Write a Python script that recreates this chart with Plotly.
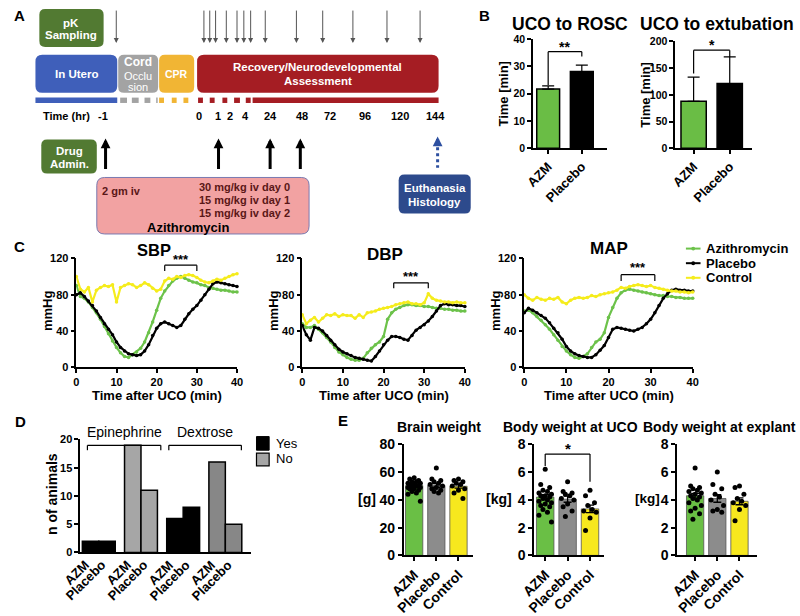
import plotly.graph_objects as go

FONT = "Liberation Sans"
W, H = 800, 616

# ---------------- Panel B data ----------------
b_groups = ["AZM", "Placebo"]
rosc_mean = [21.7, 28.1]
rosc_err = [1.2, 2.4]
extub_mean = [88, 121]
extub_err = [45, 50]

# ---------------- Panel C data (mmHg vs minutes after UCO) ----------------
time_min = list(range(41))
sbp_azm = [90, 78, 76, 72, 66, 60, 53, 45, 37, 29, 22, 16, 12, 11, 14, 17, 21, 28, 38, 50, 63,
           76, 84, 90, 95, 98, 100, 98, 96, 94, 93, 91, 90, 88, 87, 86, 85, 85, 84, 83, 83]
sbp_pla = [80, 82, 78, 73, 68, 62, 55, 48, 42, 36, 28, 22, 18, 15, 14, 13, 14, 18, 25, 35, 43,
           48, 50, 48, 46, 44, 46, 53, 59, 64, 68, 74, 80, 86, 92, 94, 93, 92, 91, 90, 89]
sbp_con = [100, 86, 83, 88, 72, 85, 88, 90, 89, 91, 72, 88, 90, 92, 91, 88, 90, 93, 91, 87, 84,
           86, 95, 98, 97, 100, 99, 101, 102, 101, 99, 96, 94, 93, 95, 97, 96, 98, 100, 102, 103]
dbp_azm = [48, 44, 44, 46, 42, 38, 33, 28, 22, 17, 14, 11, 9, 8, 8, 10, 16, 21, 25, 28, 34,
           53, 60, 64, 66, 68, 69, 69, 68, 68, 67, 67, 66, 65, 65, 64, 64, 63, 63, 62, 62]
dbp_pla = [46, 36, 30, 44, 43, 40, 35, 30, 25, 20, 17, 15, 13, 11, 10, 9, 8, 7, 12, 18, 25,
           30, 34, 34, 33, 31, 30, 35, 41, 44, 47, 51, 56, 62, 68, 70, 69, 69, 68, 68, 67]
dbp_con = [58, 48, 52, 55, 50, 54, 58, 57, 59, 56, 58, 57, 57, 54, 58, 55, 60, 61, 62, 64, 65,
           66, 67, 69, 70, 71, 72, 70, 70, 69, 71, 81, 76, 74, 73, 72, 72, 71, 72, 71, 71]
map_azm = [62, 63, 60, 56, 52, 47, 42, 36, 30, 23, 18, 14, 11, 10, 12, 15, 22, 28, 31, 38, 55,
           66, 76, 82, 85, 86, 85, 84, 83, 82, 81, 80, 79, 79, 78, 78, 77, 77, 76, 76, 76]
map_pla = [60, 65, 63, 60, 57, 54, 49, 43, 38, 31, 23, 18, 15, 13, 12, 11, 11, 14, 19, 24, 33,
           42, 44, 43, 42, 41, 40, 42, 44, 48, 53, 60, 68, 76, 81, 85, 86, 85, 85, 84, 84]
map_con = [80, 76, 74, 77, 75, 74, 76, 75, 77, 72, 70, 74, 76, 77, 76, 77, 79, 78, 80, 81, 82,
           83, 85, 88, 87, 89, 90, 91, 90, 89, 90, 88, 87, 86, 85, 84, 84, 83, 83, 82, 83]
series_names = ["Azithromycin", "Placebo", "Control"]
series_colors = ["#6cc24a", "#000000", "#f5ec1c"]

# ---------------- Panel D data ----------------
d_groups = ["Epinephrine Yes", "Epinephrine No", "Dextrose Yes", "Dextrose No"]
d_azm = [2, 19, 6, 16]
d_pla = [2, 11, 8, 5]
d_colors = ["#000000", "#a6a6a6", "#000000", "#878787"]

# ---------------- Panel E data ----------------
e_groups = ["AZM", "Placebo", "Control"]
e_colors = ["#6abf45", "#8c8c8c", "#f7e81e"]
brain_mean = [50.3, 50.4, 49.8]
brain_sem = [0.9, 1.3, 1.4]
brain_azm = [56, 55, 54, 53, 53, 52, 52, 51, 51, 50, 50, 50, 49, 49, 48, 48, 47, 46, 45, 44, 39]
brain_pla = [63, 55, 54, 53, 52, 51, 50, 49, 48, 47, 46, 45]
brain_con = [55, 54, 53, 52, 51, 50, 48, 47, 45, 41]
uco_mean = [4.2, 4.05, 3.35]
uco_sem = [0.18, 0.22, 0.27]
uco_azm = [6.2, 5.1, 4.9, 4.7, 4.6, 4.5, 4.4, 4.3, 4.3, 4.2, 4.1, 4.0, 3.9, 3.8, 3.7, 3.6, 3.5, 3.3, 3.1, 2.9, 2.4]
uco_pla = [5.3, 4.6, 4.5, 4.4, 4.3, 4.1, 4.0, 3.7, 3.5, 3.2, 2.8]
uco_con = [4.7, 4.3, 3.8, 3.6, 3.3, 3.2, 3.1, 2.7, 1.8]
exp_mean = [4.3, 4.1, 3.9]
exp_sem = [0.17, 0.27, 0.25]
exp_azm = [6.3, 5.0, 4.9, 4.8, 4.7, 4.6, 4.5, 4.4, 4.3, 4.2, 4.1, 4.0, 3.8, 3.6, 3.4, 3.2, 3.0, 2.6]
exp_pla = [6.0, 5.1, 4.8, 4.4, 4.2, 4.0, 3.6, 3.3, 3.2, 3.1]
exp_con = [5.0, 4.9, 4.4, 4.1, 3.9, 3.8, 3.6, 3.3, 2.5]

# ---------------- Panel A timeline labels ----------------
time_labels = ["-1", "0", "1", "2", "4", "24", "48", "72", "96", "120", "144"]
time_label_x = [90, 189, 208, 221, 237, 262, 295, 323, 359, 395, 432]
pk_arrow_x = [104, 194, 200, 206, 217, 228, 235, 242, 257, 289, 316, 347, 382, 416]
drug_arrow_x = [93, 209, 262, 293]
dose_lines = ["30 mg/kg iv day 0", "15 mg/kg iv day 1", "15 mg/kg iv day 2"]

# ======================================================================
shapes = []
annotations = []


def fx(x):
    return x / W


def fy(y):
    return 1 - y / H


def text(x, y, s, size=12, color="black", bold=True, xanchor="center", yanchor="middle", angle=0):
    annotations.append(dict(x=fx(x), y=fy(y), xref="paper", yref="paper", text=s, showarrow=False,
                            font=dict(family=FONT, size=size, color=color,
                                      weight="bold" if bold else "normal"),
                            xanchor=xanchor, yanchor=yanchor, textangle=angle, borderpad=0))


def rect(x0, y0, x1, y1, fill, line=None, lw=0):
    shapes.append(dict(type="rect", xref="paper", yref="paper", x0=fx(x0), x1=fx(x1),
                       y0=fy(y1), y1=fy(y0), fillcolor=fill,
                       line=dict(color=line if line else fill, width=lw)))


def rrect(x0, y0, x1, y1, fill, r=6, line=None, lw=0):
    def P(x, y):
        return f"{x / W:.5f},{1 - y / H:.5f}"
    path = (f"M{P(x0 + r, y0)} L{P(x1 - r, y0)} Q{P(x1, y0)} {P(x1, y0 + r)} "
            f"L{P(x1, y1 - r)} Q{P(x1, y1)} {P(x1 - r, y1)} L{P(x0 + r, y1)} "
            f"Q{P(x0, y1)} {P(x0, y1 - r)} L{P(x0, y0 + r)} Q{P(x0, y0)} {P(x0 + r, y0)} Z")
    shapes.append(dict(type="path", xref="paper", yref="paper", path=path, fillcolor=fill,
                       line=dict(color=line if line else fill, width=lw)))


def line(x0, y0, x1, y1, color="black", width=1.5, dash="solid"):
    shapes.append(dict(type="line", xref="paper", yref="paper", x0=fx(x0), y0=fy(y0),
                       x1=fx(x1), y1=fy(y1), line=dict(color=color, width=width, dash=dash)))


def arrow(x, y_tip, y_tail, width=1, color="#444", head=2, size=1.0):
    annotations.append(dict(x=fx(x), y=fy(y_tip), xref="paper", yref="paper", text="",
                            showarrow=True, ax=0, ay=y_tail - y_tip, arrowhead=head,
                            arrowwidth=width, arrowcolor=color, arrowsize=size, standoff=0))


# ---------------- axes geometry (pixel domains) ----------------
AX = {
    1: dict(x=(532, 608), y=(32, 144), xr=(-0.45, 1.75), yr=(0, 40)),
    2: dict(x=(678, 757), y=(34.3, 144), xr=(-0.51, 1.62), yr=(0, 200)),
    3: dict(x=(63, 228), y=(257, 369), xr=(0, 40), yr=(0, 120)),
    4: dict(x=(295, 462), y=(257, 369), xr=(0, 40), yr=(0, 120)),
    5: dict(x=(523, 696), y=(257, 369), xr=(0, 40), yr=(0, 120)),
    6: dict(x=(67, 242), y=(443, 559), xr=(-0.44, 3.6), yr=(0, 20)),
    7: dict(x=(399, 470), y=(448, 562), xr=(-0.48, 2.64), yr=(0, 80)),
    8: dict(x=(533, 605), y=(448, 562), xr=(-0.5, 2.63), yr=(0, 8)),
    9: dict(x=(680, 762), y=(448, 562), xr=(-0.81, 2.79), yr=(0, 8)),
}


def to_px(i, xv, yv):
    a = AX[i]
    x0, x1 = a["x"]
    yt, yb = a["y"]
    xr0, xr1 = a["xr"]
    yr0, yr1 = a["yr"]
    return (x0 + (xv - xr0) / (xr1 - xr0) * (x1 - x0),
            yb - (yv - yr0) / (yr1 - yr0) * (yb - yt))


def names(i):
    s = "" if i == 1 else str(i)
    return "xaxis" + s, "yaxis" + s, "x" + s, "y" + s


layout_axes = {}


def tfont(size):
    return dict(family=FONT, size=size, color="black", weight="bold")


def make_axes(i, xtickvals, xticktext, ytickvals, xfs=12, yfs=12, xangle=0, show_xlabels=True,
              xticks="outside"):
    xn, yn, xa, ya = names(i)
    a = AX[i]
    common = dict(showline=True, linecolor="black", linewidth=1.5, showgrid=False,
                  zeroline=False, tickwidth=1.5, tickcolor="black", ticklen=4, fixedrange=True)
    layout_axes[xn] = dict(common, domain=[fx(a["x"][0]), fx(a["x"][1])], range=list(a["xr"]),
                           anchor=ya, tickmode="array", tickvals=xtickvals, ticktext=xticktext,
                           tickangle=xangle, tickfont=tfont(xfs), showticklabels=show_xlabels,
                           ticks=xticks)
    layout_axes[yn] = dict(common, domain=[fy(a["y"][1]), fy(a["y"][0])], range=list(a["yr"]),
                           anchor=xa, tickmode="array", tickvals=ytickvals, tickfont=tfont(yfs),
                           ticks="outside")


fig = go.Figure()

# ======================= Panel A (diagram) =======================
text(5, 8, "A", 15)
rrect(25, 1, 91, 40, "#527a32", r=6)
text(58, 15, "pK", 11.5, "white")
text(58, 28, "Sampling", 11.5, "white")
for x in pk_arrow_x:
    arrow(x, 36, 2, width=1, color="#555", head=2, size=1.0)

rrect(21, 48, 105, 87, "#3f5fba", r=7)
text(63, 68, "In Utero", 11.5, "white")
rrect(106, 48, 147, 87, "#a3a3a3", r=6)
text(126.5, 55.5, "Cord", 12, "white")
text(126.5, 69.5, "Occlu", 11, "white", bold=False)
text(126.5, 81.5, "sion", 11, "white", bold=False)
rrect(148, 48, 184, 87, "#f1b534", r=6)
text(166, 68, "CPR", 10.5, "white")
rrect(187, 48, 435, 87, "#a51d23", r=7)
text(311, 61, "Recovery/Neurodevelopmental", 11.5, "white")
text(311, 75, "Assessment", 11.5, "white")

rect(21, 92, 105, 97.5, "#3f5fba")
for a0, a1 in [(108, 115), (120, 127), (133, 139), (145, 146.5)]:
    rect(a0, 92, a1, 97.5, "#a3a3a3")
for a0, a1 in [(148, 153), (161, 166), (173, 178)]:
    rect(a0, 92, a1, 97.5, "#f1b534")
for a0, a1 in [(188, 193), (200, 205), (213, 218), (225, 231), (237, 242), (244, 435)]:
    rect(a0, 92, a1, 97.5, "#a51d23")

text(53, 111, "Time (hr)", 11)
for lab, x in zip(time_labels, time_label_x):
    text(x, 111, lab, 11)

rrect(27, 135, 84, 170, "#527a32", r=6)
text(55.5, 146.5, "Drug", 11.5, "white")
text(55.5, 160, "Admin.", 11.5, "white")
for x in drug_arrow_x:
    arrow(x, 134, 166, width=3, color="black", head=2, size=0.65)

line(434, 143, 434, 164, color="#2d4fa0", width=3, dash="dot")
arrow(434, 132, 142, width=3, color="#2d4fa0", head=2, size=0.65)
rrect(394, 171, 468, 211, "#2d4a8c", r=6)
text(431, 185, "Euthanasia", 11.5, "white")
text(431, 199, "Histology", 11.5, "white")

rrect(84, 174, 302, 232, "#f2a2a2", r=8, line="#7a7ab0", lw=1)
text(88, 188, "2 gm iv", 11, "#5a1717", xanchor="left")
for k, s in enumerate(dose_lines):
    text(188, 183.3 + 13.7 * k, s, 11, "#5a1717", xanchor="left")
text(178, 225, "Azithromycin", 13, "black")

# ======================= Panel B =======================
text(482, 8, "B", 15)
make_axes(1, [0, 1], b_groups, [0, 10, 20, 30, 40], xfs=13, yfs=10.5, xangle=-45)
make_axes(2, [0, 1], b_groups, [0, 50, 100, 150, 200], xfs=13, yfs=10.5, xangle=-45)
b_colors = ["#6abd45", "#000000"]
fig.add_trace(go.Bar(x=[0, 1], y=rosc_mean, width=0.68, marker=dict(color=b_colors, line=dict(color="black", width=1.5)),
                     error_y=dict(type="data", symmetric=False, array=rosc_err, arrayminus=[0, 0],
                                  color="black", thickness=1.2, width=6),
                     xaxis="x", yaxis="y", showlegend=False))
fig.add_trace(go.Bar(x=[0, 1], y=extub_mean, width=0.7, marker=dict(color=b_colors, line=dict(color="black", width=1.5)),
                     error_y=dict(type="data", symmetric=False, array=extub_err, arrayminus=[0, 0],
                                  color="black", thickness=1.2, width=6),
                     xaxis="x2", yaxis="y2", showlegend=False))
text(570, 16, "UCO to ROSC", 17.5)
text(721, 16, "UCO to extubation", 17.5)
text(502, 88, "Time [min]", 13, angle=-90)
text(648, 89, "Time [min]", 13, angle=-90)


def bracket(i, xa, xb, ytop, yl, yr, label, fs=14, dy=8):
    (pxa, pyt) = to_px(i, xa, ytop)
    (pxb, _) = to_px(i, xb, ytop)
    (_, pyl) = to_px(i, xa, yl)
    (_, pyr) = to_px(i, xb, yr)
    line(pxa, pyt, pxb, pyt, width=1.2)
    line(pxa, pyt, pxa, pyl, width=1.2)
    line(pxb, pyt, pxb, pyr, width=1.2)
    text((pxa + pxb) / 2, pyt - dy, label, fs)


bracket(1, 0, 1, 35.4, 23.2, 33.6, "**", 14, 5)
bracket(2, 0, 1, 183.6, 140, 171, "*", 14, 5)

# ======================= Panel C =======================
text(5, 245, "C", 15)
c_sets = [(3, [sbp_azm, sbp_pla, sbp_con]),
          (4, [dbp_azm, dbp_pla, dbp_con]),
          (5, [map_azm, map_pla, map_con])]
for i, ys in c_sets:
    make_axes(i, [0, 10, 20, 30, 40], ["0", "10", "20", "30", "40"], [0, 40, 80, 120], xfs=11, yfs=11)
    xn, yn, xa, ya = names(i)
    for name, col, yv in zip(series_names, series_colors, ys):
        fig.add_trace(go.Scatter(x=time_min, y=yv, mode="lines+markers", name=name,
                                 line=dict(color=col, width=2.2), marker=dict(color=col, size=3.5),
                                 xaxis=xa, yaxis=ya, showlegend=False, cliponaxis=False))
    a = AX[i]
    xc = (a["x"][0] + a["x"][1]) / 2
    text(xc, 398, "Time after UCO (min)", 13)
    text(a["x"][0] - 29, 311, "mmHg", 13, angle=-90)

text(143, 248, "SBP", 16.5)
text(380, 253, "DBP", 17)
text(610, 247, "MAP", 17)
bracket(3, 22, 30, 112.5, 106, 106, "***", 13, 6)
bracket(4, 22.5, 31, 93, 87, 87, "***", 13, 7)
bracket(5, 23, 31, 102, 95, 95, "***", 13, 7)

for k, (name, col) in enumerate(zip(series_names, series_colors)):
    yy = 247 + 15 * k
    line(689, yy, 704, yy, color=col, width=2)
    shapes.append(dict(type="circle", xref="paper", yref="paper", x0=fx(694.5), x1=fx(698.5),
                       y0=fy(yy + 2), y1=fy(yy - 2), fillcolor=col, line=dict(color=col, width=0)))
    text(709, yy, name, 13, xanchor="left")

# ======================= Panel D =======================
text(6, 425, "D", 15)
make_axes(6, [0, 1, 2, 3], d_groups, [0, 5, 10, 15, 20], yfs=11, show_xlabels=False, xticks="")
bw = 0.39
fig.add_trace(go.Bar(x=[0, 1, 2, 3], y=d_azm, width=bw, offset=-bw,
                     marker=dict(color=d_colors, line=dict(color="black", width=1.5)),
                     xaxis="x6", yaxis="y6", showlegend=False, name="AZM"))
fig.add_trace(go.Bar(x=[0, 1, 2, 3], y=d_pla, width=bw, offset=0,
                     marker=dict(color=d_colors, line=dict(color="black", width=1.5)),
                     xaxis="x6", yaxis="y6", showlegend=False, name="Placebo"))
for g in range(len(d_groups)):
    for lab, off in [("AZM", -bw / 2), ("Placebo", bw / 2)]:
        px_, _ = to_px(6, g + off, 0)
        text(px_ + 3, 563, lab, 13, xanchor="right", yanchor="top", angle=-45)
text(38, 499, "n of animals", 14, angle=-90)
for lab, xa_, xb_ in [("Epinephrine", -0.27, 1.47), ("Dextrose", 1.66, 3.38)]:
    pa, _ = to_px(6, xa_, 0)
    pb, _ = to_px(6, xb_, 0)
    line(pa, 449, pb, 449, width=1.2)
    line(pa, 449, pa, 454, width=1.2)
    line(pb, 449, pb, 454, width=1.2)
    text((pa + pb) / 2, 435, lab, 14, bold=False)
rect(248, 440, 261, 454, "#000000", line="black", lw=1)
text(267, 447, "Yes", 13, bold=False, xanchor="left")
rect(248, 457, 261, 470, "#a6a6a6", line="black", lw=1.2)
text(267, 463, "No", 13, bold=False, xanchor="left")

# ======================= Panel E =======================
text(337, 424, "E", 15)
jitter = [0.0, -0.2, 0.2, -0.1, 0.1, -0.28, 0.28]
e_sets = [(7, [0, 20, 40, 60, 80], brain_mean, brain_sem, [brain_azm, brain_pla, brain_con]),
          (8, [0, 2, 4, 6, 8], uco_mean, uco_sem, [uco_azm, uco_pla, uco_con]),
          (9, [0, 2, 4, 6, 8], exp_mean, exp_sem, [exp_azm, exp_pla, exp_con])]
for i, yt, mean, sem, dots in e_sets:
    make_axes(i, [0, 1, 2], e_groups, yt, xfs=14, yfs=14, xangle=-45)
    xn, yn, xa, ya = names(i)
    fig.add_trace(go.Bar(x=[0, 1, 2], y=mean, width=0.78,
                         marker=dict(color=e_colors, line=dict(color="#555555", width=0.8)),
                         error_y=dict(type="data", array=sem, color="black", thickness=1.3, width=4),
                         xaxis=xa, yaxis=ya, showlegend=False))
    for g, vals in enumerate(dots):
        xs = [g + jitter[k % len(jitter)] for k in range(len(vals))]
        fig.add_trace(go.Scatter(x=xs, y=vals, mode="markers", marker=dict(color="black", size=5),
                                 xaxis=xa, yaxis=ya, showlegend=False, cliponaxis=False))

text(435, 430, "Brain weight", 14)
text(570, 430, "Body weight at UCO", 14)
text(724, 430, "Body weight at explant", 14)
text(361, 504, "[g]", 14)
text(497, 504, "[kg]", 14)
text(650, 504, "[kg]", 13.5)
bracket(8, 0, 2, 7.3, 6.45, 5.3, "*", 15, 6)

fig.update_layout(width=W, height=H, margin=dict(l=0, r=0, t=0, b=0), autosize=False,
                  paper_bgcolor="white", plot_bgcolor="white", showlegend=False,
                  shapes=shapes, annotations=annotations, barmode="overlay",
                  font=dict(family=FONT, color="black"), **layout_axes)
fig.write_html("out.html", config={"displayModeBar": False},
               post_script="document.body.style.margin='0px';")
